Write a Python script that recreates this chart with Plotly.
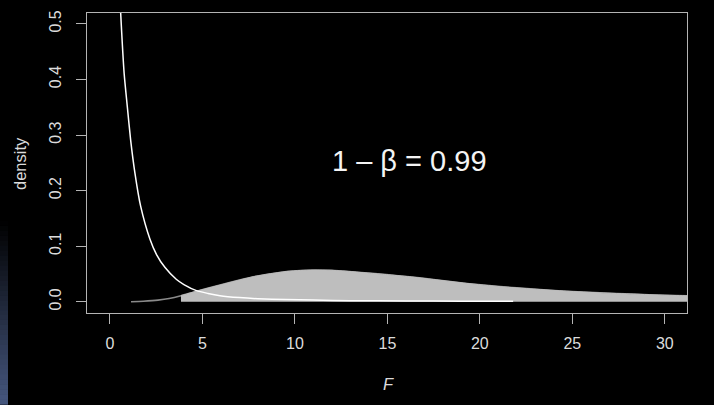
import plotly.graph_objects as go

# Central F density (null distribution), sampled along the curve
f_null = [0.56, 0.58, 0.77, 0.94, 1.12, 1.35, 1.66, 2.16, 2.52, 2.97, 3.6, 4.0,
          4.68, 5.3, 5.95, 7.0, 8.0, 9.5, 11.0, 13.0, 16.0, 19.0, 21.8]
dens_null = [0.535, 0.52, 0.41, 0.351, 0.291, 0.232, 0.172, 0.113, 0.085, 0.062,
             0.040, 0.031, 0.020, 0.015, 0.011, 0.0075, 0.0055, 0.004, 0.003,
             0.002, 0.0015, 0.001, 0.0008]

# Non-central F density (alternative distribution)
f_alt = [1.14, 1.8, 2.6, 3.2, 3.84, 4.68, 5.95, 7.0, 7.75, 8.6, 9.55, 10.3, 11.0,
         12.0, 13.15, 14.0, 14.95, 16.2, 17.5, 19.3, 21.1, 22.9, 24.7, 26.5, 28.3,
         30.0, 31.2, 32.0]
dens_alt = [0.0, 0.001, 0.003, 0.0058, 0.0108, 0.019, 0.030, 0.039, 0.045, 0.050,
            0.0545, 0.0563, 0.057, 0.0565, 0.0538, 0.0515, 0.0488, 0.045, 0.040,
            0.033, 0.0272, 0.0228, 0.019, 0.016, 0.0137, 0.0118, 0.0107, 0.0101]

f_crit = 3.84
power_label = "1 \u2013 \u03b2 = 0.99"

x_ticks = [0, 5, 10, 15, 20, 25, 30]
y_ticks = [0.0, 0.1, 0.2, 0.3, 0.4, 0.5]
y_tick_text = ["0.0", "0.1", "0.2", "0.3", "0.4", "0.5"]

FONT = "Liberation Sans, Arial, Helvetica, sans-serif"
AXIS_GREY = "#b4b4b4"
TEXT_GREY = "#dcdcdc"

fig = go.Figure()

# Alternative density as a grey line
fig.add_trace(go.Scatter(
    x=f_alt, y=dens_alt, mode="lines",
    line=dict(color="#8a8a8a", width=1.6, shape="spline", smoothing=0.6),
    hoverinfo="skip", showlegend=False))

# Shaded power region beyond the critical value
shade_x = [f for f in f_alt if f >= f_crit]
shade_y = [d for f, d in zip(f_alt, dens_alt) if f >= f_crit]
fig.add_trace(go.Scatter(
    x=shade_x, y=shade_y, mode="lines", fill="tozeroy",
    fillcolor="#bebebe",
    line=dict(color="#bebebe", width=1, shape="spline", smoothing=0.6),
    hoverinfo="skip", showlegend=False))

# Null density in white on top
fig.add_trace(go.Scatter(
    x=f_null, y=dens_null, mode="lines",
    line=dict(color="#ffffff", width=1.5, shape="spline", smoothing=0.6),
    hoverinfo="skip", showlegend=False))

# Power annotation
fig.add_annotation(
    x=16.2, y=0.2526, xref="x", yref="y", text=power_label, showarrow=False,
    xanchor="center", yanchor="middle",
    font=dict(family=FONT, size=29, color="#f4f4f4"))

# Axis titles
fig.add_annotation(
    x=-0.1117, y=0.5, xref="paper", yref="paper", text="density",
    showarrow=False, textangle=-90, xanchor="center", yanchor="middle",
    font=dict(family=FONT, size=16.5, color=TEXT_GREY))
fig.add_annotation(
    x=0.502, y=-0.2376, xref="paper", yref="paper", text="<i>F</i>",
    showarrow=False, xanchor="center", yanchor="middle",
    font=dict(family=FONT, size=16.5, color=TEXT_GREY))

# Faint blue gradient strip along the lower left edge
top_px, bot_px, n_bands = 220, 405, 37
end_rgb = (70, 87, 127)
band_h = (bot_px - top_px) / n_bands
for i in range(n_bands):
    t = (i + 0.5) / n_bands
    col = "rgb({},{},{})".format(*(int(round(c * t)) for c in end_rgb))
    y0_px = top_px + i * band_h
    y1_px = y0_px + band_h + 0.6
    fig.add_shape(
        type="rect", xref="paper", yref="paper",
        x0=(0 - 87) / 600, x1=(8 - 87) / 600,
        y0=(313 - y1_px) / 303, y1=(313 - y0_px) / 303,
        line=dict(width=0), fillcolor=col, layer="below")

fig.update_layout(
    width=714, height=405,
    margin=dict(l=87, r=27, t=10, b=92),
    paper_bgcolor="#000000", plot_bgcolor="#000000",
    font=dict(family=FONT, size=16, color=TEXT_GREY),
    xaxis=dict(
        range=[-1.24, 31.2], tickvals=x_ticks,
        ticks="outside", ticklen=10, tickwidth=1, tickcolor=AXIS_GREY,
        ticklabelstandoff=6,
        showline=True, linecolor=AXIS_GREY, linewidth=1, mirror=True,
        showgrid=False, zeroline=False,
        tickfont=dict(family=FONT, size=16, color=TEXT_GREY)),
    yaxis=dict(
        range=[-0.0202, 0.5196], tickvals=y_ticks, ticktext=y_tick_text,
        tickangle=-90,
        ticks="outside", ticklen=10, tickwidth=1, tickcolor=AXIS_GREY,
        ticklabelstandoff=9,
        showline=True, linecolor=AXIS_GREY, linewidth=1, mirror=True,
        showgrid=False, zeroline=False,
        tickfont=dict(family=FONT, size=16, color=TEXT_GREY)),
)

fig.write_html("out.html")
